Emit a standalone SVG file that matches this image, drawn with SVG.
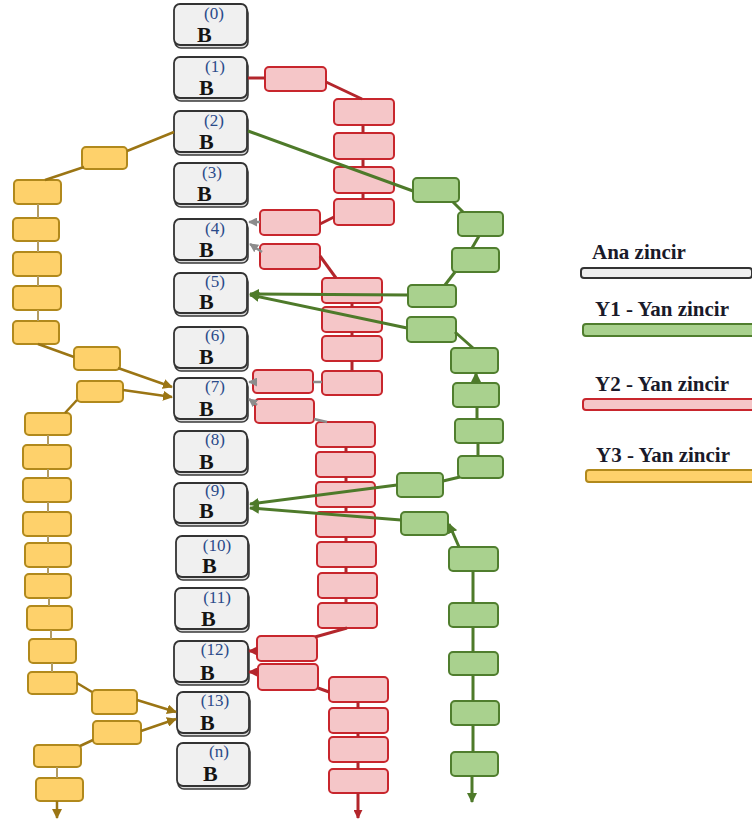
<svg xmlns="http://www.w3.org/2000/svg" width="752" height="822" viewBox="0 0 752 822">
<style>
.bs{fill:#dcdcdc;stroke:#3a3a3a;stroke-width:1.6}
.bf{fill:#f0f0f0;stroke:#333;stroke-width:1.8}
.num{font-family:"Liberation Serif",serif;font-size:17px;fill:#2a4a8a;text-anchor:middle}
.bb{font-family:"Liberation Serif",serif;font-size:22px;font-weight:bold;fill:#141414}
.p rect{fill:#f5c6c8;stroke:#c8262d;stroke-width:2}
.g rect{fill:#a9d18e;stroke:#507e2e;stroke-width:2}
.o rect{fill:#fed16b;stroke:#b1891c;stroke-width:2}
.cr{stroke:#b3262c;stroke-width:3;fill:none}
.cgy{stroke:#8c8c8c;stroke-width:2.5;fill:none}
.cg{stroke:#4e7a2a;stroke-width:3;fill:none}
.co{stroke:#9b7514;stroke-width:2.5;fill:none}
.cot{stroke:#b39c62;stroke-width:2;fill:none}
.lg{font-family:"Liberation Serif",serif;font-size:21px;font-weight:bold;fill:#1a1a2a}
</style>
<defs>
<marker id="ar" viewBox="0 0 10 10" refX="9" refY="5" markerWidth="9" markerHeight="9" orient="auto" markerUnits="userSpaceOnUse"><path d="M0,0 L10,5 L0,10 z" fill="#b3262c"/></marker>
<marker id="agy" viewBox="0 0 10 10" refX="9" refY="5" markerWidth="9" markerHeight="9" orient="auto" markerUnits="userSpaceOnUse"><path d="M0,0 L10,5 L0,10 z" fill="#8c8c8c"/></marker>
<marker id="ag" viewBox="0 0 10 10" refX="9" refY="5" markerWidth="10" markerHeight="10" orient="auto" markerUnits="userSpaceOnUse"><path d="M0,0 L10,5 L0,10 z" fill="#4e7a2a"/></marker>
<marker id="ao" viewBox="0 0 10 10" refX="9" refY="5" markerWidth="10" markerHeight="10" orient="auto" markerUnits="userSpaceOnUse"><path d="M0,0 L10,5 L0,10 z" fill="#9b7514"/></marker>
</defs>

<g id="main-chain">
<g id="b0"><rect class="bs" x="175" y="7" width="73" height="41" rx="6"/><rect class="bf" x="174" y="4" width="73" height="41" rx="6"/><text class="num" x="214" y="19">(0)</text><text class="bb" x="197" y="42">B</text></g>
<g id="b1"><rect class="bs" x="175" y="60" width="73" height="41" rx="6"/><rect class="bf" x="174" y="57" width="73" height="41" rx="6"/><text class="num" x="215" y="72">(1)</text><text class="bb" x="199" y="95">B</text></g>
<g id="b2"><rect class="bs" x="175" y="114" width="73" height="41" rx="6"/><rect class="bf" x="174" y="111" width="73" height="41" rx="6"/><text class="num" x="214" y="126">(2)</text><text class="bb" x="199" y="149">B</text></g>
<g id="b3"><rect class="bs" x="175" y="166" width="73" height="41" rx="6"/><rect class="bf" x="174" y="163" width="73" height="41" rx="6"/><text class="num" x="212" y="178">(3)</text><text class="bb" x="197" y="201">B</text></g>
<g id="b4"><rect class="bs" x="175" y="222" width="73" height="41" rx="6"/><rect class="bf" x="174" y="219" width="73" height="41" rx="6"/><text class="num" x="215" y="234">(4)</text><text class="bb" x="199" y="257">B</text></g>
<g id="b5"><rect class="bs" x="175" y="276" width="73" height="40" rx="6"/><rect class="bf" x="174" y="273" width="73" height="40" rx="6"/><text class="num" x="215" y="287">(5)</text><text class="bb" x="199" y="309">B</text></g>
<g id="b6"><rect class="bs" x="175" y="330" width="73" height="41" rx="6"/><rect class="bf" x="174" y="327" width="73" height="41" rx="6"/><text class="num" x="215" y="341">(6)</text><text class="bb" x="199" y="364">B</text></g>
<g id="b7"><rect class="bs" x="175" y="381" width="73" height="41" rx="6"/><rect class="bf" x="174" y="378" width="73" height="41" rx="6"/><text class="num" x="215" y="392">(7)</text><text class="bb" x="199" y="416">B</text></g>
<g id="b8"><rect class="bs" x="175" y="434" width="73" height="41" rx="6"/><rect class="bf" x="174" y="431" width="73" height="41" rx="6"/><text class="num" x="215" y="445">(8)</text><text class="bb" x="199" y="469">B</text></g>
<g id="b9"><rect class="bs" x="175" y="486" width="73" height="40" rx="6"/><rect class="bf" x="174" y="483" width="73" height="40" rx="6"/><text class="num" x="215" y="496">(9)</text><text class="bb" x="199" y="518">B</text></g>
<g id="b10"><rect class="bs" x="177" y="539" width="72" height="41" rx="6"/><rect class="bf" x="176" y="536" width="72" height="41" rx="6"/><text class="num" x="217" y="551">(10)</text><text class="bb" x="202" y="573">B</text></g>
<g id="b11"><rect class="bs" x="176" y="591" width="73" height="41" rx="6"/><rect class="bf" x="175" y="588" width="73" height="41" rx="6"/><text class="num" x="217" y="603">(11)</text><text class="bb" x="201" y="626">B</text></g>
<g id="b12"><rect class="bs" x="175" y="644" width="74" height="41" rx="6"/><rect class="bf" x="174" y="641" width="74" height="41" rx="6"/><text class="num" x="215" y="655">(12)</text><text class="bb" x="200" y="680">B</text></g>
<g id="b13"><rect class="bs" x="178" y="695" width="72" height="41" rx="6"/><rect class="bf" x="177" y="692" width="72" height="41" rx="6"/><text class="num" x="215" y="706">(13)</text><text class="bb" x="200" y="730">B</text></g>
<g id="bn"><rect class="bs" x="178" y="746" width="72" height="43" rx="6"/><rect class="bf" x="177" y="743" width="72" height="43" rx="6"/><text class="num" x="219" y="757">(n)</text><text class="bb" x="203" y="781">B</text></g>
</g>

<g id="y2-chain" class="p">
<rect x="265" y="67" width="61" height="24" rx="4"/>
<rect x="334" y="99" width="60" height="26" rx="4"/>
<rect x="334" y="133" width="60" height="26" rx="4"/>
<rect x="334" y="167" width="60" height="26" rx="4"/>
<rect x="334" y="199" width="60" height="26" rx="4"/>
<rect x="260" y="210" width="60" height="25" rx="4"/>
<rect x="260" y="244" width="60" height="25" rx="4"/>
<rect x="322" y="278" width="60" height="25" rx="4"/>
<rect x="322" y="307" width="60" height="25" rx="4"/>
<rect x="322" y="336" width="60" height="25" rx="4"/>
<rect x="322" y="371" width="60" height="24" rx="4"/>
<rect x="253" y="370" width="60" height="23" rx="4"/>
<rect x="255" y="399" width="59" height="24" rx="4"/>
<rect x="316" y="422" width="59" height="25" rx="4"/>
<rect x="316" y="452" width="59" height="25" rx="4"/>
<rect x="316" y="482" width="59" height="25" rx="4"/>
<rect x="316" y="512" width="59" height="25" rx="4"/>
<rect x="317" y="542" width="59" height="25" rx="4"/>
<rect x="318" y="573" width="59" height="25" rx="4"/>
<rect x="318" y="603" width="59" height="25" rx="4"/>
<rect x="257" y="636" width="60" height="25" rx="4"/>
<rect x="258" y="664" width="60" height="26" rx="4"/>
<rect x="329" y="677" width="59" height="25" rx="4"/>
<rect x="329" y="708" width="59" height="25" rx="4"/>
<rect x="329" y="737" width="59" height="25" rx="4"/>
<rect x="329" y="769" width="59" height="24" rx="4"/>
</g>

<g id="y1-chain" class="g">
<rect x="413" y="178" width="46" height="24" rx="4"/>
<rect x="458" y="212" width="45" height="24" rx="4"/>
<rect x="452" y="248" width="47" height="24" rx="4"/>
<rect x="408" y="285" width="48" height="22" rx="4"/>
<rect x="407" y="317" width="49" height="25" rx="4"/>
<rect x="451" y="348" width="47" height="25" rx="4"/>
<rect x="453" y="383" width="46" height="24" rx="4"/>
<rect x="455" y="419" width="48" height="24" rx="4"/>
<rect x="458" y="456" width="45" height="22" rx="4"/>
<rect x="397" y="473" width="46" height="24" rx="4"/>
<rect x="401" y="512" width="47" height="23" rx="4"/>
<rect x="449" y="547" width="49" height="24" rx="4"/>
<rect x="449" y="603" width="49" height="24" rx="4"/>
<rect x="449" y="652" width="49" height="23" rx="4"/>
<rect x="451" y="701" width="48" height="24" rx="4"/>
<rect x="451" y="752" width="47" height="24" rx="4"/>
</g>

<g id="y3-chain" class="o">
<rect x="82" y="147" width="45" height="22" rx="4"/>
<rect x="14" y="180" width="47" height="24" rx="4"/>
<rect x="13" y="218" width="46" height="23" rx="4"/>
<rect x="13" y="252" width="48" height="24" rx="4"/>
<rect x="13" y="286" width="48" height="24" rx="4"/>
<rect x="13" y="321" width="46" height="23" rx="4"/>
<rect x="74" y="347" width="46" height="23" rx="4"/>
<rect x="77" y="381" width="46" height="21" rx="4"/>
<rect x="25" y="413" width="46" height="22" rx="4"/>
<rect x="23" y="445" width="48" height="24" rx="4"/>
<rect x="23" y="478" width="48" height="24" rx="4"/>
<rect x="23" y="512" width="48" height="24" rx="4"/>
<rect x="25" y="543" width="46" height="24" rx="4"/>
<rect x="25" y="574" width="46" height="24" rx="4"/>
<rect x="27" y="606" width="45" height="24" rx="4"/>
<rect x="29" y="639" width="47" height="24" rx="4"/>
<rect x="28" y="672" width="49" height="22" rx="4"/>
<rect x="92" y="690" width="45" height="24" rx="4"/>
<rect x="93" y="721" width="48" height="23" rx="4"/>
<rect x="34" y="745" width="47" height="22" rx="4"/>
<rect x="36" y="778" width="47" height="23" rx="4"/>
</g>

<g id="connectors">
<!-- Y2 red -->
<path class="cr" d="M248,78 L265,78"/>
<path class="cr" d="M326,82 L362,99"/>
<path class="cr" d="M363,125 V133 M363,159 V167 M363,193 V199"/>
<path class="cr" d="M334,217 L320,224"/>
<path class="cr" d="M320,256 L336,278"/>
<path class="cr" d="M352,303 V307 M352,332 V336 M352,361 V371"/>
<path class="cr" d="M346,447 V452 M346,477 V482 M346,507 V512 M346,537 V542 M346,567 V573 M346,598 V603"/>
<path class="cr" d="M347,628 L315,637"/>
<path class="cr" d="M257,651 L249,651" marker-end="url(#ar)"/>
<path class="cr" d="M258,672 L249,672" marker-end="url(#ar)"/>
<path class="cr" d="M318,688 L329,692"/>
<path class="cr" d="M358,702 V708 M358,733 V737 M358,762 V769"/>
<path class="cr" d="M358,793 V818" marker-end="url(#ar)"/>
<!-- gray -->
<path class="cgy" d="M260,222 L249,222" marker-end="url(#agy)"/>
<path class="cgy" d="M262,252 L250,244" marker-end="url(#agy)"/>
<path class="cgy" d="M322,382 L313,382"/>
<path class="cgy" d="M255,382 L249,382" marker-end="url(#agy)"/>
<path class="cgy" d="M257,405 L249,399" marker-end="url(#agy)"/>
<path class="cgy" d="M314,419 L327,422"/>
<!-- Y1 green -->
<path class="cg" d="M248,131 L413,191"/>
<path class="cg" d="M453,202 L463,212"/>
<path class="cg" d="M479,236 L472,248"/>
<path class="cg" d="M455,272 L445,285"/>
<path class="cg" d="M408,295 L250,294" marker-end="url(#ag)"/>
<path class="cg" d="M407,328 L250,295" marker-end="url(#ag)"/>
<path class="cg" d="M455,332 L473,348"/>
<path class="cg" d="M476,383 L476,373" marker-end="url(#ag)"/>
<path class="cg" d="M477,407 V419 M478,443 V456"/>
<path class="cg" d="M460,477 L443,481"/>
<path class="cg" d="M397,485 L250,504" marker-end="url(#ag)"/>
<path class="cg" d="M401,520 L250,508" marker-end="url(#ag)"/>
<path class="cg" d="M459,547 L449,524" marker-end="url(#ag)"/>
<path class="cg" d="M473,571 V603 M473,627 V652 M473,675 V701 M473,725 V752"/>
<path class="cg" d="M472,776 V802" marker-end="url(#ag)"/>
<!-- Y3 orange -->
<path class="co" d="M174,132 L127,151"/>
<path class="co" d="M84,167 L45,180"/>
<path class="cot" d="M38,204 V218 M38,241 V252 M38,276 V286 M38,310 V321"/>
<path class="co" d="M38,344 L74,357"/>
<path class="co" d="M118,368 L172,387" marker-end="url(#ao)"/>
<path class="co" d="M123,390 L172,397" marker-end="url(#ao)"/>
<path class="co" d="M77,400 L65,413"/>
<path class="cot" d="M48,435 V445 M48,469 V478 M48,502 V512 M48,536 V543 M48,567 V574 M49,598 V606 M51,630 V639 M52,663 V672"/>
<path class="co" d="M77,683 L92,692"/>
<path class="co" d="M137,700 L176,712" marker-end="url(#ao)"/>
<path class="co" d="M141,731 L176,719" marker-end="url(#ao)"/>
<path class="co" d="M93,740 L80,746"/>
<path class="cot" d="M57,767 V778"/>
<path class="co" d="M57,801 V818" marker-end="url(#ao)"/>
</g>

<g id="legend">
<text class="lg" x="592" y="259">Ana zincir</text>
<rect x="581" y="268" width="171" height="10" rx="3" fill="#eeeeee" stroke="#333" stroke-width="2"/>
<text class="lg" x="595" y="316">Y1 - Yan zincir</text>
<rect x="583" y="324" width="175" height="12" rx="3" fill="#a9d18e" stroke="#507e2e" stroke-width="2"/>
<text class="lg" x="595" y="391">Y2 - Yan zincir</text>
<rect x="583" y="399" width="175" height="11" rx="3" fill="#f5c6c8" stroke="#c8262d" stroke-width="2"/>
<text class="lg" x="596" y="462">Y3 - Yan zincir</text>
<rect x="586" y="470" width="175" height="12" rx="3" fill="#fed16b" stroke="#b1891c" stroke-width="2"/>
</g>
</svg>
